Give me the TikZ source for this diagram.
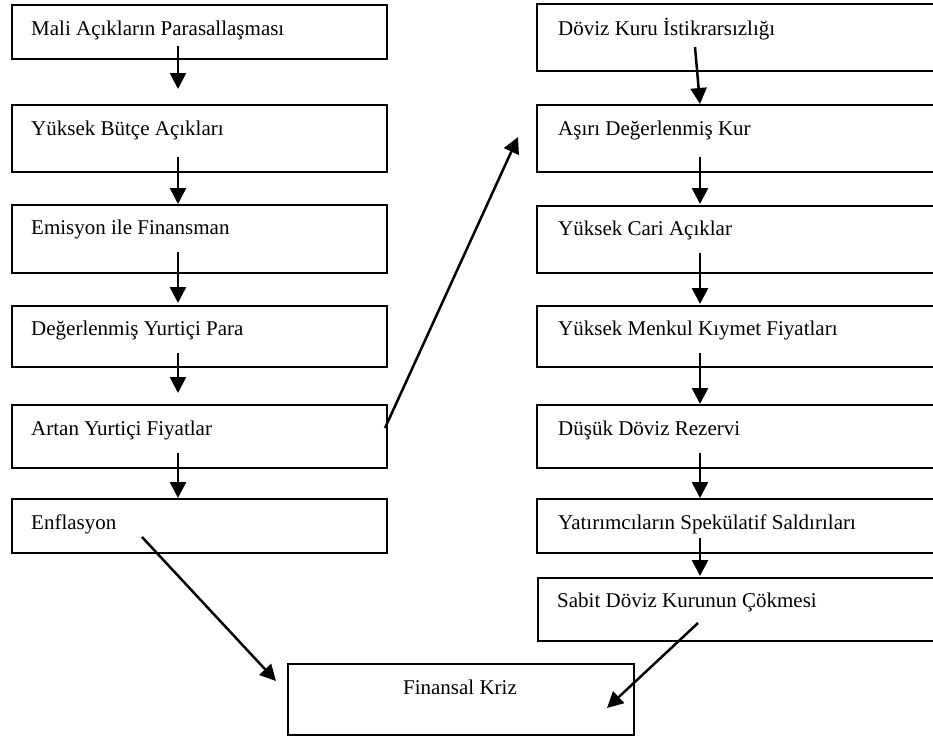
\documentclass[tikz,border=0pt]{standalone}
\usepackage{fontspec}
\setmainfont{Liberation Serif}
\usetikzlibrary{arrows.meta}
\begin{document}
\begin{tikzpicture}[x=1pt,y=-1pt,
  box/.style={draw=black,line width=2pt,anchor=north west,inner sep=0pt,rectangle},
  lbl/.style={anchor=base west,inner sep=0pt,font=\fontsize{21}{25}\selectfont},
  clbl/.style={anchor=base,inner sep=0pt,font=\fontsize{21}{25}\selectfont},
  arr/.style={line width=2.5pt,-{Triangle[length=16pt,width=16pt]}}]
\useasboundingbox (0,0) rectangle (933,737);
\clip (0,0) rectangle (933,737);
% left column
\node[box,minimum width=375pt,minimum height=54pt] (L1) at (11,4) {};
\node[box,minimum width=375pt,minimum height=67pt] (L2) at (11,104) {};
\node[box,minimum width=375pt,minimum height=68pt] (L3) at (11,204) {};
\node[box,minimum width=375pt,minimum height=61pt] (L4) at (11,305) {};
\node[box,minimum width=375pt,minimum height=63pt] (L5) at (11,404) {};
\node[box,minimum width=375pt,minimum height=54pt] (L6) at (11,498) {};
\node[lbl] (t1) at (31,35) {Mali Açıkların Parasallaşması};
\node[lbl] (t2) at (31,135) {Yüksek Bütçe Açıkları};
\node[lbl] (t3) at (31,234) {Emisyon ile Finansman};
\node[lbl] (t4) at (31,335) {Değerlenmiş Yurtiçi Para};
\node[lbl] (t5) at (31,435) {Artan Yurtiçi Fiyatlar};
\node[lbl] (t6) at (31,529) {Enflasyon};
% right column
\node[box,minimum width=405pt,minimum height=67pt] (R1) at (536,3) {};
\node[box,minimum width=405pt,minimum height=67pt] (R2) at (536,104) {};
\node[box,minimum width=405pt,minimum height=67pt] (R3) at (536,205) {};
\node[box,minimum width=405pt,minimum height=61pt] (R4) at (536,305) {};
\node[box,minimum width=405pt,minimum height=63pt] (R5) at (536,404) {};
\node[box,minimum width=405pt,minimum height=54pt] (R6) at (536,498) {};
\node[box,minimum width=404pt,minimum height=63pt] (R7) at (537,577) {};
\node[lbl] (u1) at (558,35) {Döviz Kuru İstikrarsızlığı};
\node[lbl] (u2) at (558,135) {Aşırı Değerlenmiş Kur};
\node[lbl] (u3) at (558,235) {Yüksek Cari Açıklar};
\node[lbl] (u4) at (558,335) {Yüksek Menkul Kıymet Fiyatları};
\node[lbl] (u5) at (558,435) {Düşük Döviz Rezervi};
\node[lbl] (u6) at (558,529) {Yatırımcıların Spekülatif Saldırıları};
\node[lbl] (u7) at (557,607) {Sabit Döviz Kurunun Çökmesi};
% bottom box
\node[box,minimum width=346pt,minimum height=71pt] (FK) at (287,663) {};
\node[clbl] (fk) at (460,694) {Finansal Kriz};
% connector end points
\coordinate (a1s) at (178,46);  \coordinate (a1e) at (178,89);
\coordinate (a2s) at (178,157); \coordinate (a2e) at (178,204);
\coordinate (a3s) at (178,252); \coordinate (a3e) at (178,303);
\coordinate (a4s) at (178,353); \coordinate (a4e) at (178,393);
\coordinate (a5s) at (178,453); \coordinate (a5e) at (178,498);
\coordinate (b1s) at (695,47);  \coordinate (b1e) at (700,104);
\coordinate (b2s) at (700,157); \coordinate (b2e) at (700,204);
\coordinate (b3s) at (700,253); \coordinate (b3e) at (700,304);
\coordinate (b4s) at (700,353); \coordinate (b4e) at (700,404);
\coordinate (b5s) at (700,453); \coordinate (b5e) at (700,498);
\coordinate (b6s) at (700,538); \coordinate (b6e) at (700,576);
\coordinate (c1s) at (385,428); \coordinate (c1e) at (518,137);
\coordinate (c2s) at (142,537); \coordinate (c2e) at (276,681);
\coordinate (c3s) at (698,623); \coordinate (c3e) at (607,708);
\draw[arr] (a1s) -- (a1e);
\draw[arr] (a2s) -- (a2e);
\draw[arr] (a3s) -- (a3e);
\draw[arr] (a4s) -- (a4e);
\draw[arr] (a5s) -- (a5e);
\draw[arr] (b1s) -- (b1e);
\draw[arr] (b2s) -- (b2e);
\draw[arr] (b3s) -- (b3e);
\draw[arr] (b4s) -- (b4e);
\draw[arr] (b5s) -- (b5e);
\draw[arr] (b6s) -- (b6e);
\draw[arr] (c1s) -- (c1e);
\draw[arr] (c2s) -- (c2e);
\draw[arr] (c3s) -- (c3e);
\end{tikzpicture}
\end{document}
